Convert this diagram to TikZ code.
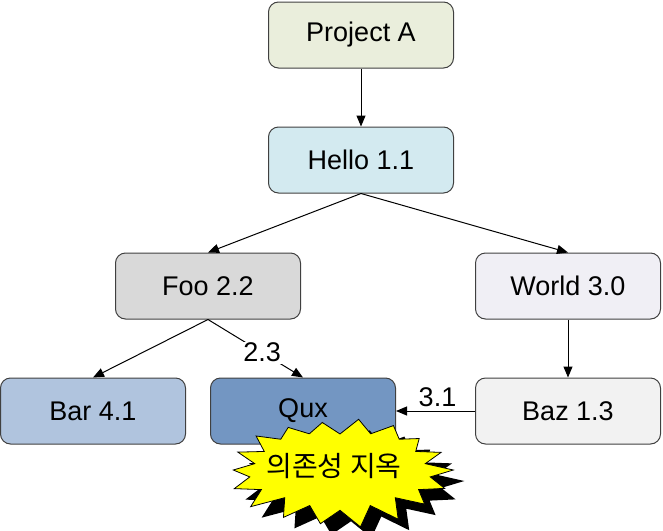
\documentclass[tikz,border=0pt]{standalone}
\usepackage{fontspec}
\setmainfont{Liberation Sans}
\newfontfamily\kofont{Noto Sans CJK KR}
\usetikzlibrary{arrows.meta}
\definecolor{cProj}{HTML}{EAEEDC}
\definecolor{cHello}{HTML}{D3EAF0}
\definecolor{cFoo}{HTML}{D9D9D9}
\definecolor{cWorld}{HTML}{F0EFF5}
\definecolor{cBar}{HTML}{B0C4DE}
\definecolor{cQux}{HTML}{7396C2}
\definecolor{cBaz}{HTML}{F2F2F2}
\definecolor{cStar}{HTML}{FFFF00}
\begin{document}
\begin{tikzpicture}[x=1pt,y=-1pt,
  box/.style={draw=black!75, line width=1pt, rounded corners=10pt,
    minimum width=185pt, minimum height=66pt, inner sep=0pt,
    font=\fontsize{27}{32}\selectfont},
  arr/.style={-{Triangle[length=11pt,width=9pt]}, line width=1pt},
  lbl/.style={font=\fontsize{27}{32}\selectfont, inner sep=1.5pt}]
\useasboundingbox (0,0) rectangle (663,530);
\node[box, fill=cProj]  (pa)    at (361,35)  {Project A};
\node[box, fill=cHello] (hello) at (361,160) {Hello 1.1};
\node[box, fill=cFoo]   (foo)   at (208,286) {Foo 2.2};
\node[box, fill=cWorld] (world) at (568,286) {World 3.0};
\node[box, fill=cBar]   (bar)   at (93,411)  {Bar 4.1};
\node[box, fill=cQux]   (qux)   at (303,411) {Qux};
\node[box, fill=cBaz]   (baz)   at (568,411) {Baz 1.3};
\draw[arr] (pa.south) -- (hello.north);
\draw[arr] (hello.south) -- (foo.north);
\draw[arr] (hello.south) -- (world.north);
\draw[arr] (foo.south) -- (bar.north);
\draw[arr] (foo.south) -- node[lbl, fill=white, pos=0.57] {2.3} (qux.north);
\draw[arr] (world.south) -- (baz.north);
\draw[arr] (baz.west) -- node[lbl, above, inner sep=4pt, xshift=2pt] {3.1} (qux.east);
% starburst shadow
\begin{scope}[shift={(11,11)}]
\fill[black] plot[samples at={0,10,...,350}]
  ({340+110*(mod(\x,20)==0 ? 1+0.05*sin(37*\x)+0.03*cos(23*\x) : 0.81+0.03*sin(41*\x))*cos(\x)},
   {470+53*(mod(\x,20)==0 ? 1+0.06*sin(37*\x)+0.04*cos(23*\x) : 0.72+0.04*sin(41*\x))*sin(\x)}) -- cycle;
\end{scope}
\filldraw[fill=cStar, draw=black, line width=0.8pt, line join=miter] plot[samples at={0,10,...,350}]
  ({340+110*(mod(\x,20)==0 ? 1+0.05*sin(37*\x)+0.03*cos(23*\x) : 0.81+0.03*sin(41*\x))*cos(\x)},
   {470+53*(mod(\x,20)==0 ? 1+0.06*sin(37*\x)+0.04*cos(23*\x) : 0.72+0.04*sin(41*\x))*sin(\x)}) -- cycle;
\node[font=\kofont\fontsize{28}{34}\selectfont] (hell) at (334,466) {의존성 지옥};
\end{tikzpicture}
\end{document}
